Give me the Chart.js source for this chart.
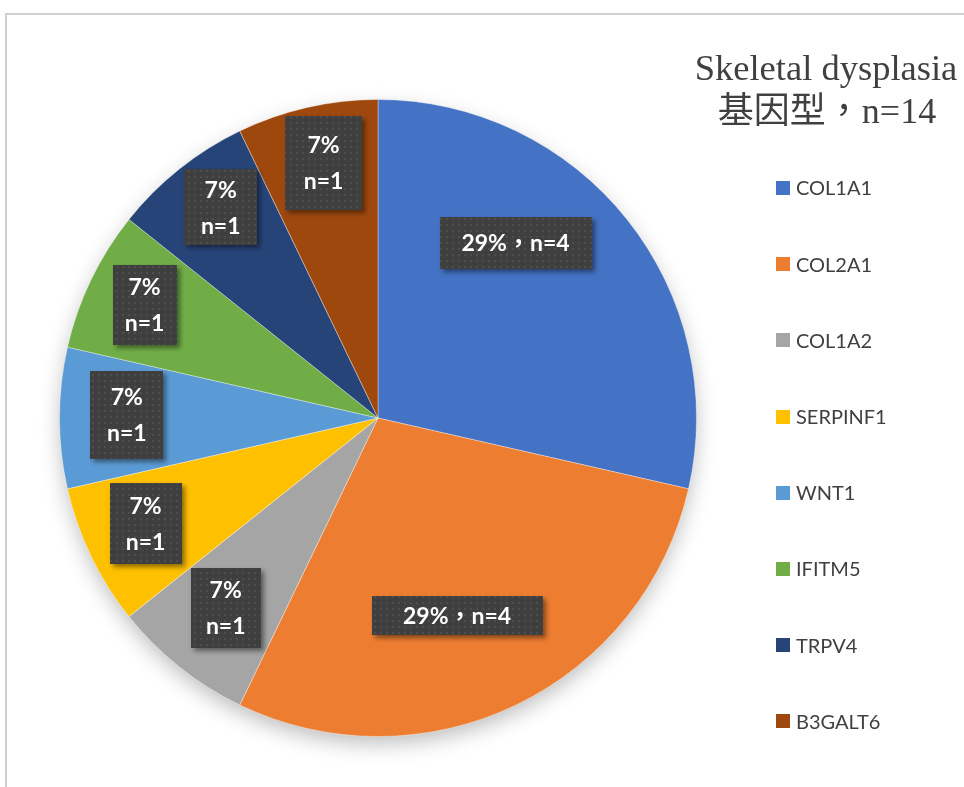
<!DOCTYPE html>
<html>
<head>
<meta charset="utf-8">
<script src="https://cdn.jsdelivr.net/npm/chart.js@4/dist/chart.umd.min.js"></script>
<style>
  html, body { margin: 0; padding: 0; background: #ffffff; }
  #wrap { position: relative; width: 964px; height: 787px; }
</style>
</head>
<body>
<div id="wrap"><canvas id="c" width="964" height="787"></canvas></div>
<script>
// ---- data ----
const categories = ['COL1A1', 'COL2A1', 'COL1A2', 'SERPINF1', 'WNT1', 'IFITM5', 'TRPV4', 'B3GALT6'];
const counts = [4, 4, 1, 1, 1, 1, 1, 1];
const sliceColors = ['#4472C4', '#ED7D31', '#A5A5A5', '#FFC000', '#5B9BD5', '#70AD47', '#264478', '#9E480E'];
const titleLines = ['Skeletal dysplasia', '基因型，n=14'];

// ---- label box layout (offset from slice centre point, box size) ----
const labelLayout = [
  { dx: 13, dy: -76, w: 152, h: 52 },
  { dx: 10, dy: 54, w: 171, h: 39 },
  { dx: -53, dy: 65, w: 70, h: 80 },
  { dx: -89, dy: 36, w: 72, h: 81 },
  { dx: -92, dy: -3, w: 73, h: 88 },
  { dx: -90, dy: -44, w: 64, h: 80 },
  { dx: -58, dy: -86, w: 73, h: 76 },
  { dx: -19, dy: -100, w: 77, h: 94 }
];

const total = counts.reduce((a, b) => a + b, 0);

function labelLines(i) {
  const pct = Math.round(counts[i] / total * 100) + '%';
  const n = 'n=' + counts[i];
  return counts[i] > 1 ? [pct + '，' + n] : [pct, n];
}

function makePattern(ctx) {
  const p = document.createElement('canvas');
  p.width = 6; p.height = 6;
  const pc = p.getContext('2d');
  pc.fillStyle = '#3f3f3f';
  pc.fillRect(0, 0, 6, 6);
  pc.fillStyle = '#4e4e4e';
  pc.fillRect(2, 2, 2, 2);
  return ctx.createPattern(p, 'repeat');
}

const pieShadow = {
  id: 'pieShadow',
  beforeDatasetsDraw(chart) {
    const arc = chart.getDatasetMeta(0).data[0];
    if (!arc) return;
    const ctx = chart.ctx;
    ctx.save();
    ctx.shadowColor = 'rgba(0,0,0,0.28)';
    ctx.shadowBlur = 22;
    ctx.shadowOffsetY = 8;
    ctx.fillStyle = '#ffffff';
    ctx.beginPath();
    ctx.arc(arc.x, arc.y, arc.outerRadius - 2, 0, Math.PI * 2);
    ctx.fill();
    ctx.restore();
  }
};

const decorations = {
  id: 'decorations',
  afterDraw(chart) {
    const ctx = chart.ctx;
    const meta = chart.getDatasetMeta(0);
    // frame
    ctx.save();
    ctx.strokeStyle = '#d0d0d0';
    ctx.lineWidth = 2;
    ctx.beginPath();
    ctx.moveTo(6, 800);
    ctx.lineTo(6, 14);
    ctx.lineTo(980, 14);
    ctx.stroke();
    ctx.restore();

    // data labels
    const pat = makePattern(ctx);
    meta.data.forEach((arc, i) => {
      const c = arc.getCenterPoint();
      const L = labelLayout[i];
      const cx = c.x + L.dx, cy = c.y + L.dy;
      const x0 = Math.round(cx - L.w / 2), y0 = Math.round(cy - L.h / 2);
      ctx.save();
      ctx.shadowColor = 'rgba(0,0,0,0.45)';
      ctx.shadowBlur = 5;
      ctx.shadowOffsetX = 3;
      ctx.shadowOffsetY = 3;
      ctx.fillStyle = pat;
      ctx.fillRect(x0, y0, L.w, L.h);
      ctx.restore();
      ctx.save();
      ctx.fillStyle = '#ffffff';
      ctx.font = 'bold 23px Lato, "Noto Sans CJK TC", sans-serif';
      ctx.textAlign = 'center';
      ctx.textBaseline = 'middle';
      const lines = labelLines(i);
      const lh = 36;
      lines.forEach((t, k) => {
        ctx.fillText(t, cx, cy + (k - (lines.length - 1) / 2) * lh + 1);
      });
      ctx.restore();
    });

    // title
    ctx.save();
    ctx.fillStyle = '#404040';
    ctx.textAlign = 'center';
    ctx.textBaseline = 'alphabetic';
    ctx.font = '36.5px "Liberation Serif", "Noto Sans CJK TC", serif';
    ctx.fillText(titleLines[0], 826, 80);
    ctx.font = '36px "Liberation Serif", "Noto Sans CJK TC", serif';
    ctx.fillText(titleLines[1], 827, 123);
    ctx.restore();

    // legend
    ctx.save();
    ctx.font = '20px Lato, sans-serif';
    ctx.textBaseline = 'middle';
    ctx.textAlign = 'left';
    categories.forEach((name, i) => {
      const y = 188 + i * 76.2;
      ctx.fillStyle = sliceColors[i];
      ctx.fillRect(776, Math.round(y - 7), 14, 14);
      ctx.fillStyle = '#404040';
      ctx.fillText(name, 796, y + 1);
    });
    ctx.restore();
  }
};

new Chart(document.getElementById('c'), {
  type: 'pie',
  data: {
    labels: categories,
    datasets: [{
      data: counts,
      backgroundColor: sliceColors,
      borderColor: 'rgba(255,255,255,0.35)',
      borderWidth: 1
    }]
  },
  options: {
    responsive: false,
    animation: false,
    devicePixelRatio: 1,
    layout: { padding: { left: 59, top: 99, right: 267, bottom: 50 } },
    plugins: {
      legend: { display: false },
      title: { display: false },
      tooltip: { enabled: false }
    }
  },
  plugins: [pieShadow, decorations]
});
</script>
</body>
</html>
